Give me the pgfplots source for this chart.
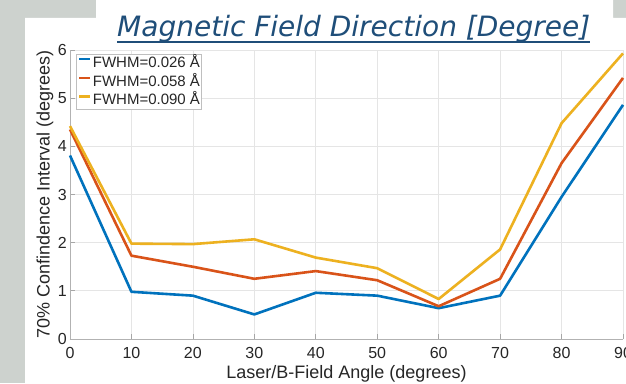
\documentclass[border=0pt]{standalone}
\usepackage{fontspec}
\setmainfont{Liberation Sans}
\newfontfamily\titlefont{DejaVu Sans}
\usepackage{pgfplots}
\pgfplotsset{compat=1.18}
\definecolor{bggrey}{HTML}{CDD2CE}
\definecolor{titleblue}{HTML}{1F4E79}
\definecolor{mblue}{HTML}{0072BD}
\definecolor{mred}{HTML}{D95319}
\definecolor{myellow}{HTML}{EDB120}
\definecolor{txt}{HTML}{262626}
\begin{document}
\begin{tikzpicture}[x=1pt,y=1pt]
\useasboundingbox (0,0) rectangle (626,383);
\fill[bggrey] (0,0) rectangle (626,383);
\fill[white] (25,0) -- (25,365) -- (96,365) -- (96,383) -- (613,383) -- (613,365) -- (626,365) -- (626,0) -- cycle;
\node[anchor=base west, inner sep=0pt, text=titleblue, font=\titlefont\itshape\fontsize{28}{32}\selectfont] (T) at (117,346.3) {Magnetic Field Direction [Degree]};
\draw[titleblue, line width=1.8pt] ([yshift=-5pt]T.base west) -- ([yshift=-5pt]T.base east);
\begin{axis}[
  at={(70pt,44pt)}, anchor=south west,
  scale only axis, width=553pt, height=289pt,
  xmin=0, xmax=90, ymin=0, ymax=6,
  xtick={0,10,...,90}, ytick={0,1,...,6},
  axis lines*=left,
  axis line style={-, draw=gray!60, line width=0.8pt},
  every outer x axis line/.append style={-},
  every outer y axis line/.append style={-},
  grid=major,
  major grid style={draw=black!10, line width=0.7pt},
  tick align=inside,
  major tick length=5pt,
  tick style={draw=gray!70, line width=0.7pt},
  /pgf/number format/assume math mode=true,
  ticklabel style={font=\fontsize{16}{19}\selectfont, text=txt},
  xticklabel style={anchor=base, yshift=-19pt},
  yticklabel style={anchor=east, inner sep=1pt, xshift=-2pt},
  xlabel={Laser/B-Field Angle (degrees)},
  ylabel={70\% Confindence Interval (degrees)},
  every axis x label/.style={at={(axis description cs:0.5,-0.1384)}, anchor=base, font=\fontsize{18}{21}\selectfont, text=txt},
  every axis y label/.style={at={(axis description cs:-0.0452,0.5)}, rotate=90, anchor=center, font=\fontsize{18}{21}\selectfont, text=txt},
  clip=false,
  legend style={at={(axis description cs:0.0108,0.986)}, anchor=north west,
    draw=black!25, fill=white, line width=0.6pt,
    font=\fontsize{15}{17}\selectfont, text=txt,
    inner xsep=1.5pt, inner ysep=1.5pt, row sep=4.3pt, column sep=1.5pt,
    nodes={inner sep=0pt, text height=11.5pt, text depth=3pt}},
  legend cell align=left,
  legend image code/.code={\draw[#1] (0pt,4pt) -- (11pt,4pt);},
  every axis plot/.append style={line width=2.6pt, line join=round},
]
\addplot[mblue] coordinates {(0,3.81)(10,0.98)(20,0.90)(30,0.51)(40,0.96)(50,0.90)(60,0.64)(70,0.90)(80,2.95)(90,4.86)};
\addlegendentry{FWHM=0.026 Å}
\addplot[mred] coordinates {(0,4.35)(10,1.73)(20,1.50)(30,1.25)(40,1.41)(50,1.22)(60,0.68)(70,1.25)(80,3.65)(90,5.42)};
\addlegendentry{FWHM=0.058 Å}
\addplot[myellow] coordinates {(0,4.42)(10,1.98)(20,1.97)(30,2.07)(40,1.69)(50,1.47)(60,0.83)(70,1.86)(80,4.48)(90,5.93)};
\addlegendentry{FWHM=0.090 Å}
\end{axis}
\end{tikzpicture}
\end{document}
